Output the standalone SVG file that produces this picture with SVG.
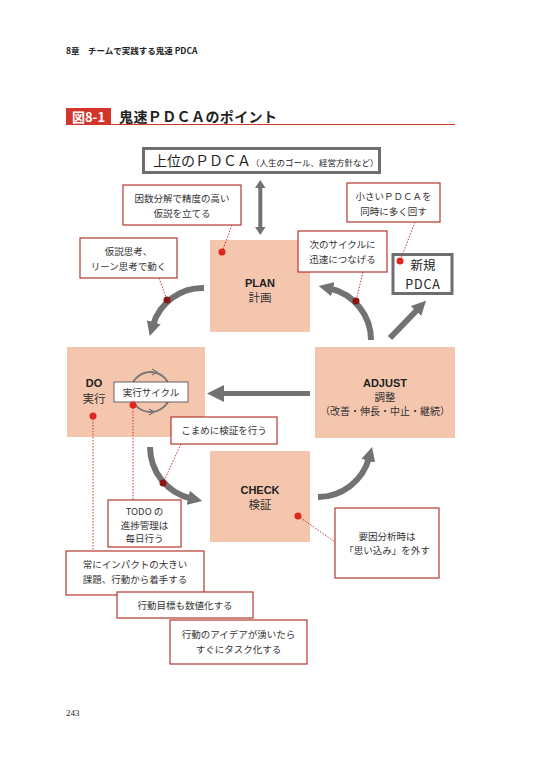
<svg xmlns="http://www.w3.org/2000/svg" width="537" height="775" viewBox="0 0 537 775">
<defs>
<style>
.jp{font-family:"Noto Sans CJK JP","Noto Sans",sans-serif;}
.note{fill:#fff;stroke:#b5372e;stroke-width:1.2;}
.nt{font-family:"Noto Sans CJK JP",sans-serif;font-size:9.5px;fill:#333;text-anchor:middle;}
.stage{fill:#f4c6ae;}
.st{font-family:"Noto Sans CJK JP",sans-serif;fill:#333;text-anchor:middle;}
.sb{font-family:"Liberation Sans",Arial,sans-serif;font-weight:bold;fill:#222;text-anchor:middle;}
.arc{fill:none;stroke:#727272;stroke-width:6;}
.dot{fill:#e0261d;}
.ddot{fill:#8c1616;}
.lead{fill:none;stroke:#c8342b;stroke-width:1;stroke-dasharray:1.5,1.5;}
</style>
<marker id="ah" viewBox="0 0 10 10" refX="2" refY="5" markerWidth="2.4" markerHeight="2.6" orient="auto" markerUnits="strokeWidth">
<path d="M0,0 L10,5 L0,10 Z" fill="#727272"/>
</marker>
</defs>
<rect width="537" height="775" fill="#fff"/>

<text x="66" y="54" class="jp" font-size="8.5" font-weight="bold" fill="#222">8章　チームで実践する鬼速 PDCA</text>

<g id="title">
<rect x="66" y="108" width="45" height="17" fill="#d2352b"/>
<text x="88.5" y="121.5" class="jp" font-size="13" font-weight="bold" fill="#fff" text-anchor="middle">図8-1</text>
<text x="119" y="121.5" class="jp" font-size="14" font-weight="bold" fill="#222" letter-spacing="0.4">鬼速ＰＤＣＡのポイント</text>
<line x1="66" y1="124.5" x2="455" y2="124.5" stroke="#d2352b" stroke-width="1"/>
</g>

<g id="connectors">
<path class="arc" d="M204,288 A52,52 0 0 0 153,325" marker-end="url(#ah)"/>
<path class="arc" d="M371,340 A53,53 0 0 0 330,288.5" marker-end="url(#ah)"/>
<path class="arc" d="M150,447 A53,53 0 0 0 191,498.5" marker-end="url(#ah)"/>
<path class="arc" d="M318,497 A53,53 0 0 0 369,458" marker-end="url(#ah)"/>
<line class="arc" x1="390" y1="338" x2="418" y2="309" marker-end="url(#ah)"/>
<line x1="310" y1="393.5" x2="222" y2="393.5" stroke="#727272" stroke-width="5"/>
<path d="M207,393.5 L224,385 L224,402 Z" fill="#727272"/>
<line x1="260.3" y1="186" x2="260.3" y2="230" stroke="#727272" stroke-width="4"/>
<path d="M260.3,180 L265.5,188 L255,188 Z" fill="#727272"/>
<path d="M260.3,235 L265.5,227 L255,227 Z" fill="#727272"/>
</g>

<g id="top-pdca">
<rect x="143.5" y="148.5" width="236" height="24" fill="#fff" stroke="#6e6e6e" stroke-width="3"/>
<text x="153" y="166" class="jp" font-size="14" fill="#222">上位のＰＤＣＡ<tspan font-size="8.5">（人生のゴール、経営方針など）</tspan></text>
</g>

<g id="plan">
<rect class="stage" x="210" y="240" width="100" height="92"/>
<text x="260" y="287" class="sb" font-size="11">PLAN</text>
<text x="260" y="302" class="st" font-size="11.5">計画</text>
</g>

<g id="do">
<rect class="stage" x="67" y="347" width="138" height="90"/>
<text x="94" y="387" class="sb" font-size="11">DO</text>
<text x="94" y="403" class="st" font-size="11.5">実行</text>
</g>

<g id="exec-cycle">
<circle cx="150.5" cy="392" r="20" fill="none" stroke="#777" stroke-width="2"/>
<path d="M152,369 L157,372 L152,375" fill="none" stroke="#777" stroke-width="1.3"/>
<path d="M149,409 L144,412 L149,415" fill="none" stroke="#777" stroke-width="1.3" transform="rotate(180 149 412)"/>
<rect x="114" y="382" width="74" height="20" fill="#fff" stroke="#444" stroke-width="0.8"/>
<text x="151" y="396" class="nt">実行サイクル</text>
</g>

<g id="adjust">
<rect class="stage" x="315" y="347" width="140" height="91"/>
<text x="385" y="387" class="sb" font-size="11">ADJUST</text>
<text x="385" y="401" class="st" font-size="10.5">調整</text>
<text x="385" y="415" class="st" font-size="10">（改善・伸長・中止・継続）</text>
</g>

<g id="check">
<rect class="stage" x="210" y="451" width="100" height="91"/>
<text x="260" y="494" class="sb" font-size="11">CHECK</text>
<text x="260" y="509" class="st" font-size="11.5">検証</text>
</g>

<g id="new-pdca">
<rect x="393" y="254.5" width="59" height="39" fill="#fff" stroke="#6e6e6e" stroke-width="3"/>
<text x="423" y="270" class="jp" font-size="12.5" fill="#222" text-anchor="middle">新規</text>
<text x="423" y="289" class="jp" font-size="12.5" fill="#222" text-anchor="middle" letter-spacing="0.8">PDCA</text>
</g>

<g id="leads">
<line class="lead" x1="232" y1="225" x2="222" y2="252"/>
<line class="lead" x1="159" y1="278" x2="167" y2="300"/>
<line class="lead" x1="363" y1="272" x2="356" y2="301"/>
<line class="lead" x1="415" y1="222" x2="400" y2="261"/>
<line class="lead" x1="181" y1="444" x2="163" y2="483"/>
<line class="lead" x1="93" y1="416" x2="93" y2="551"/>
<line class="lead" x1="133" y1="405" x2="133" y2="500"/>
<line class="lead" x1="298" y1="516" x2="335" y2="542"/>
</g>

<g id="dots">
<circle class="dot" cx="222" cy="252" r="3.5"/>
<circle class="ddot" cx="167" cy="300" r="3.5"/>
<circle class="ddot" cx="356" cy="301" r="3.5"/>
<circle class="dot" cx="400" cy="261" r="3.5"/>
<circle class="ddot" cx="163" cy="483" r="3.5"/>
<circle class="dot" cx="93" cy="416" r="3.5"/>
<circle class="dot" cx="133" cy="405" r="3.5"/>
<circle class="dot" cx="298" cy="516" r="3.5"/>
</g>

<g id="note-hypothesis">
<rect class="note" x="123" y="185" width="118" height="40"/>
<text x="182" y="202" class="nt">因数分解で精度の高い</text>
<text x="182" y="217" class="nt">仮説を立てる</text>
</g>

<g id="note-small-pdca">
<rect class="note" x="347" y="183" width="93" height="39"/>
<text x="393.5" y="200" class="nt">小さいＰＤＣＡを</text>
<text x="393.5" y="215" class="nt">同時に多く回す</text>
</g>

<g id="note-lean">
<rect class="note" x="80" y="238" width="97" height="40"/>
<text x="128.5" y="255" class="nt">仮説思考、</text>
<text x="128.5" y="270" class="nt">リーン思考で動く</text>
</g>

<g id="note-next">
<rect class="note" x="298" y="231" width="89" height="41"/>
<text x="342.5" y="248" class="nt">次のサイクルに</text>
<text x="342.5" y="263" class="nt">迅速につなげる</text>
</g>

<g id="note-verify">
<rect class="note" x="171" y="417" width="106" height="27"/>
<text x="224" y="434" class="nt">こまめに検証を行う</text>
</g>

<g id="note-todo">
<rect class="note" x="108" y="500" width="73" height="47"/>
<text x="144.5" y="515" class="nt">TODO の</text>
<text x="144.5" y="528.5" class="nt">進捗管理は</text>
<text x="144.5" y="542" class="nt">毎日行う</text>
</g>

<g id="note-factor">
<rect class="note" x="335" y="508" width="104" height="70"/>
<text x="387" y="540" class="nt">要因分析時は</text>
<text x="387" y="554" class="nt">「思い込み」を外す</text>
</g>

<g id="note-impact">
<rect class="note" x="66" y="551" width="138" height="44"/>
<text x="135" y="568" class="nt">常にインパクトの大きい</text>
<text x="135" y="583" class="nt">課題、行動から着手する</text>
</g>

<g id="note-numeric">
<rect class="note" x="117" y="592" width="136" height="26"/>
<text x="185" y="609" class="nt">行動目標も数値化する</text>
</g>

<g id="note-task">
<rect class="note" x="170" y="620" width="137" height="44"/>
<text x="238.5" y="638" class="nt">行動のアイデアが湧いたら</text>
<text x="238.5" y="653" class="nt">すぐにタスク化する</text>
</g>

<text x="66" y="716" font-family="Liberation Serif,serif" font-size="9" fill="#222">243</text>
</svg>
